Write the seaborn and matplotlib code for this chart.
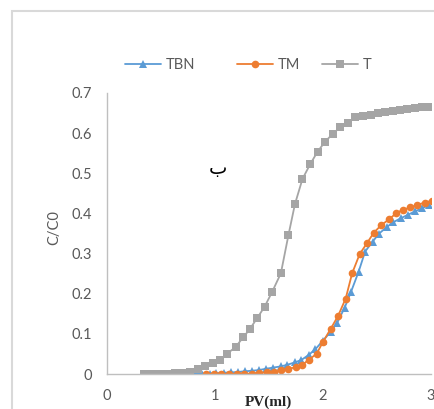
import numpy as np
import pandas as pd
import seaborn as sns
import matplotlib
matplotlib.use("Agg")
import matplotlib.pyplot as plt
from matplotlib.lines import Line2D
from matplotlib.patches import Rectangle

# ---- data ----
tbn_pv = [0.75, 0.82, 0.88, 0.95, 1.01, 1.08, 1.15, 1.21, 1.28, 1.34, 1.41, 1.47,
          1.54, 1.61, 1.67, 1.74, 1.80, 1.87, 1.93, 2.00, 2.07, 2.13, 2.20, 2.26,
          2.33, 2.39, 2.46, 2.52, 2.59, 2.65, 2.72, 2.79, 2.85, 2.92, 2.98]
tbn_c = [0.0, 0.0, 0.001, 0.001, 0.002, 0.003, 0.004, 0.005, 0.007, 0.008, 0.010, 0.013,
         0.016, 0.019, 0.023, 0.029, 0.035, 0.048, 0.062, 0.083, 0.105, 0.127, 0.165, 0.205,
         0.255, 0.305, 0.330, 0.350, 0.366, 0.378, 0.388, 0.397, 0.405, 0.413, 0.421]

tm_pv = [0.92, 0.99, 1.06, 1.13, 1.20, 1.27, 1.34, 1.41, 1.48, 1.55, 1.61, 1.68,
         1.75, 1.81, 1.87, 1.94, 2.00, 2.07, 2.14, 2.21, 2.27, 2.34, 2.41, 2.47,
         2.54, 2.61, 2.68, 2.74, 2.81, 2.87, 2.94, 3.01]
tm_c = [0.0, 0.0, 0.0, 0.0, 0.0, 0.001, 0.001, 0.003, 0.004, 0.006, 0.009, 0.013,
        0.017, 0.023, 0.036, 0.050, 0.080, 0.112, 0.145, 0.188, 0.251, 0.299, 0.327, 0.352,
        0.371, 0.385, 0.401, 0.409, 0.415, 0.421, 0.427, 0.432]

t_pv = [0.34, 0.40, 0.46, 0.51, 0.57, 0.63, 0.69, 0.77, 0.84, 0.91, 0.98, 1.05,
        1.11, 1.19, 1.26, 1.32, 1.39, 1.46, 1.53, 1.61, 1.68, 1.74, 1.81, 1.88,
        1.95, 2.02, 2.09, 2.16, 2.23, 2.30, 2.37, 2.44, 2.51, 2.57, 2.65, 2.71,
        2.78, 2.85, 2.92, 2.99]
t_c = [0.0, 0.0, 0.0, 0.0, 0.0, 0.002, 0.002, 0.004, 0.012, 0.019, 0.027, 0.034,
       0.050, 0.067, 0.091, 0.111, 0.139, 0.168, 0.205, 0.251, 0.346, 0.423, 0.486, 0.522,
       0.554, 0.579, 0.598, 0.615, 0.626, 0.639, 0.643, 0.646, 0.649, 0.652, 0.655, 0.658,
       0.660, 0.662, 0.664, 0.666]

series_names = ["TBN", "TM", "T"]
x_ticks = [0, 1, 2, 3]
y_ticks = [0, 0.1, 0.2, 0.3, 0.4, 0.5, 0.6, 0.7]
y_tick_labels = ["0", "0.1", "0.2", "0.3", "0.4", "0.5", "0.6", "0.7"]

df = pd.concat([
    pd.DataFrame({"PV": tbn_pv, "C": tbn_c, "series": "TBN"}),
    pd.DataFrame({"PV": tm_pv, "C": tm_c, "series": "TM"}),
    pd.DataFrame({"PV": t_pv, "C": t_c, "series": "T"}),
], ignore_index=True)

colors = {"TBN": "#5B9BD5", "TM": "#ED7D31", "T": "#A5A5A5"}
markers = {"TBN": "^", "TM": "o", "T": "s"}
msizes = {"TBN": 5.8, "TM": 5.5, "T": 5.2}

sns.set_theme(style="white")
plt.rcParams["font.family"] = ["Lato", "DejaVu Sans"]

fig = plt.figure(figsize=(4.35, 4.09), dpi=100)
ax = fig.add_axes([107/435, 35/409, 324/435, 281/409])

for name in series_names:
    sub = df[df["series"] == name]
    sns.lineplot(data=sub, x="PV", y="C", ax=ax, color=colors[name],
                 marker=markers[name], markersize=msizes[name], markeredgewidth=0,
                 linewidth=1.3, label=name, legend=False)

ax.set_xlim(0, 3)
ax.set_ylim(0, 0.7)
ax.set_xticks(x_ticks)
ax.set_yticks(y_ticks)
ax.set_yticklabels(y_tick_labels)
ax.tick_params(axis="both", length=0, labelsize=10.5, labelcolor="#595959")
ax.tick_params(axis="y", pad=11)
ax.tick_params(axis="x", pad=11)
for s in ["top", "right"]:
    ax.spines[s].set_visible(False)
for s in ["left", "bottom"]:
    ax.spines[s].set_color("#BFBFBF")
    ax.spines[s].set_linewidth(1.0)
ax.grid(False)
ax.set_xlabel("")
ax.set_ylabel("C/C0", fontsize=10.5, color="#595959")
ax.yaxis.set_label_coords(-0.14, 0.52)

ax.text(1.03, 0.513, "ب", fontsize=14, color="black", ha="center", va="center",
        family=["DejaVu Sans"])

fig.text(268/435, 1 - 396/409, "PV(ml)", fontsize=11, fontweight="bold",
         family=["Liberation Serif"], ha="center", va="top", color="#262626")

# legend entries placed like the reference
legend_x = {"TBN": 125, "TM": 237, "T": 322}
for n in series_names:
    h = Line2D([], [], color=colors[n], marker=markers[n], markersize=msizes[n],
               markeredgewidth=0, linewidth=1.3)
    leg = fig.legend([h], [n], loc="center left",
                     bbox_to_anchor=(legend_x[n]/435, 1 - 65/409),
                     frameon=False, fontsize=10.5, handlelength=2.5,
                     handletextpad=0.3, borderpad=0, borderaxespad=0,
                     labelcolor="#595959")

border = Rectangle((12/435, -0.1), 1.2, 1 - 11/409 + 0.1, transform=fig.transFigure,
                   fill=False, edgecolor="#D9D9D9", linewidth=1.5)
fig.add_artist(border)

fig.savefig("out.png", dpi=100)
